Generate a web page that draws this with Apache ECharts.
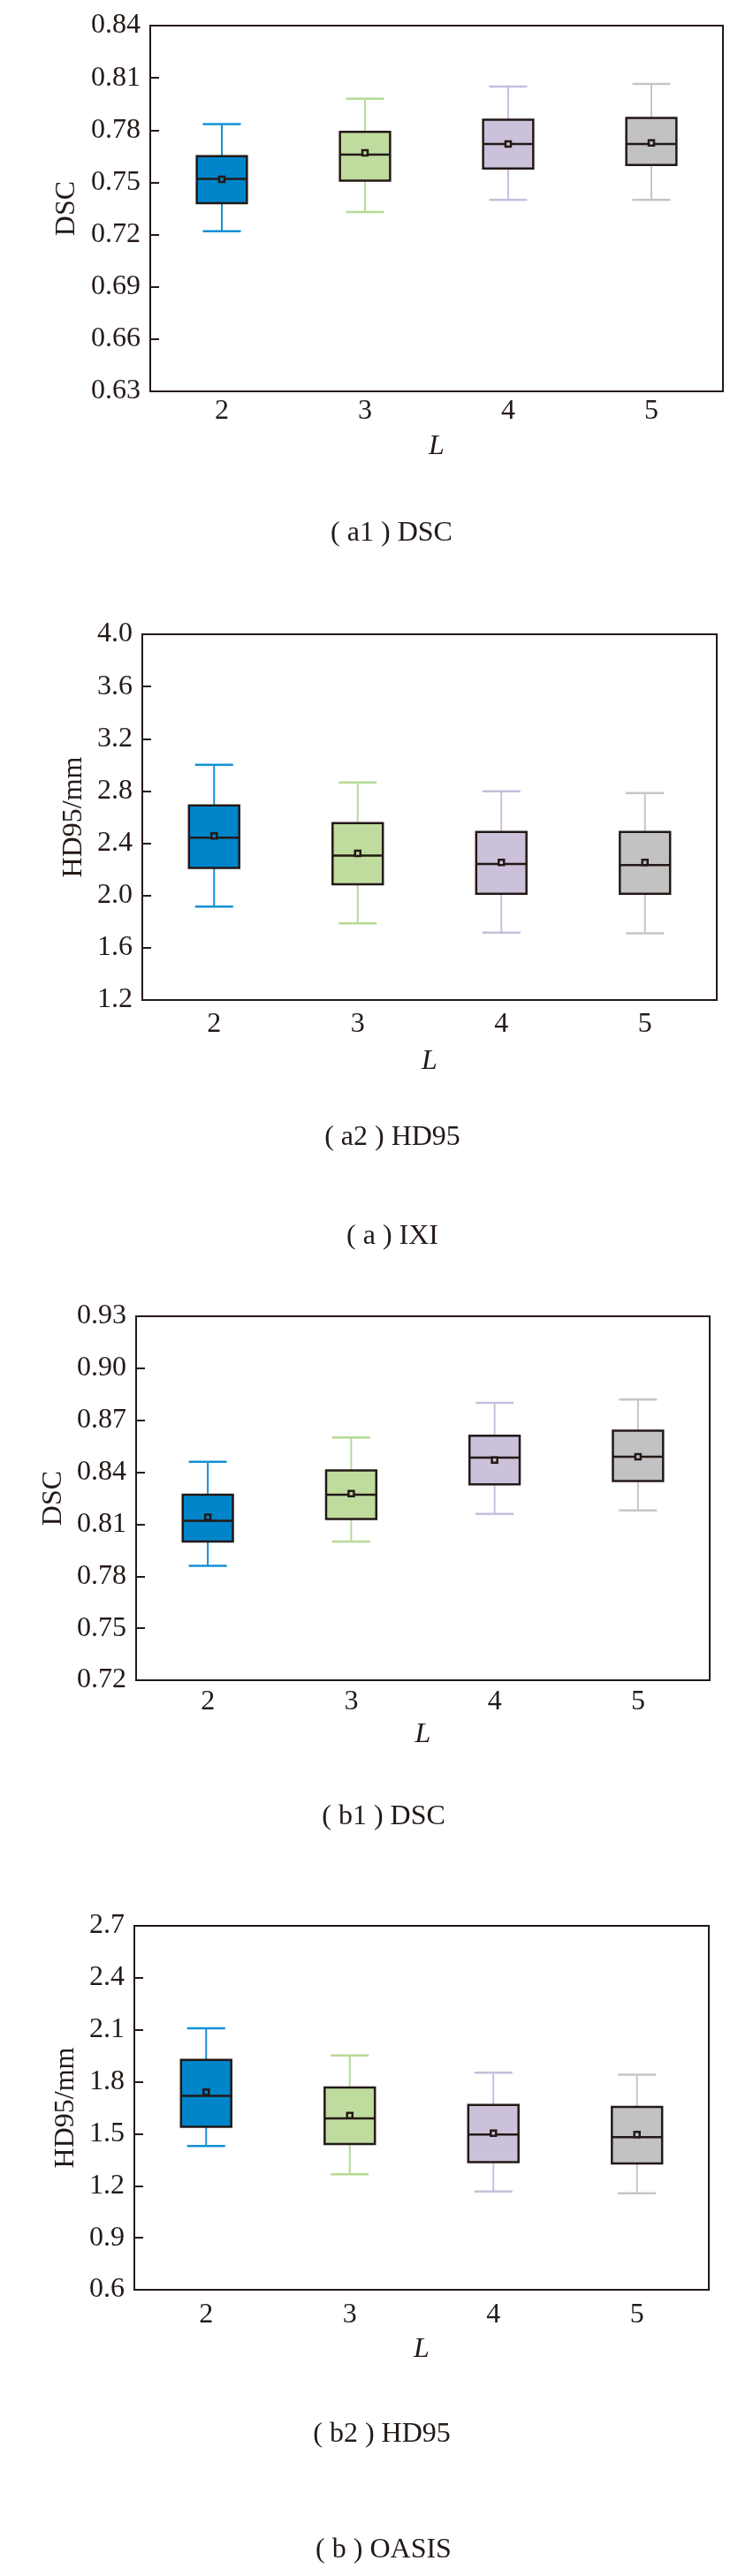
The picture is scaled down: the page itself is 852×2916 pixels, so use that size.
<!DOCTYPE html>
<html>
<head>
<meta charset="utf-8">
<script src="https://cdn.jsdelivr.net/npm/echarts@6/dist/echarts.min.js"></script>
<style>
html,body{margin:0;padding:0;background:#fff;}
#chart{width:852px;height:2916px;}
</style>
</head>
<body>
<div id="chart"></div>
<script>
// ---------- data ----------
const categories = ['2', '3', '4', '5'];

// (a1) IXI DSC
const a1Low    = [0.722, 0.733, 0.740, 0.740];
const a1Q1     = [0.738, 0.751, 0.758, 0.760];
const a1Median = [0.752, 0.766, 0.772, 0.772];
const a1Q3     = [0.765, 0.779, 0.786, 0.787];
const a1High   = [0.7835, 0.798, 0.805, 0.8065];
const a1Mean   = [0.7518, 0.767, 0.772, 0.7727];

// (a2) IXI HD95
const a2Low    = [1.916, 1.787, 1.715, 1.710];
const a2Q1     = [2.211, 2.086, 2.014, 2.014];
const a2Median = [2.442, 2.306, 2.242, 2.233];
const a2Q3     = [2.690, 2.555, 2.487, 2.487];
const a2High   = [3.000, 2.865, 2.797, 2.784];
const a2Mean   = [2.456, 2.322, 2.254, 2.254];

// (b1) OASIS DSC
const b1Low    = [0.786, 0.800, 0.816, 0.818];
const b1Q1     = [0.800, 0.813, 0.833, 0.835];
const b1Median = [0.812, 0.827, 0.8485, 0.849];
const b1Q3     = [0.827, 0.841, 0.861, 0.864];
const b1High   = [0.846, 0.860, 0.880, 0.882];
const b1Mean   = [0.814, 0.8277, 0.847, 0.849];

// (b2) OASIS HD95
const b2Low    = [1.430, 1.266, 1.167, 1.157];
const b2Q1     = [1.541, 1.441, 1.337, 1.329];
const b2Median = [1.719, 1.589, 1.496, 1.480];
const b2Q3     = [1.926, 1.767, 1.666, 1.655];
const b2High   = [2.109, 1.952, 1.852, 1.841];
const b2Mean   = [1.740, 1.605, 1.504, 1.496];

// axis ranges / ticks
const a1Axis = {min: 0.63, max: 0.84, interval: 0.03, digits: 2, name: 'DSC'};
const a2Axis = {min: 1.2, max: 4.0, interval: 0.4, digits: 1, name: 'HD95/mm'};
const b1Axis = {min: 0.72, max: 0.93, interval: 0.03, digits: 2, name: 'DSC'};
const b2Axis = {min: 0.6, max: 2.7, interval: 0.3, digits: 1, name: 'HD95/mm'};

const captions = ['( a1 ) DSC', '( a2 ) HD95', '( a ) IXI', '( b1 ) DSC', '( b2 ) HD95', '( b ) OASIS'];

// ---------- style ----------
const FONT = '"Liberation Serif", "DejaVu Serif", "Times New Roman", serif';
const INK = '#231916';
const fillColors = ['#0085CA', '#BFDC9E', '#CBC1DA', '#C1C2C1'];
const whiskerColors = ['#1391D4', '#B6DA94', '#C9BEDC', '#C6C6C6'];

const panels = [
  {low: a1Low, q1: a1Q1, med: a1Median, q3: a1Q3, high: a1High, mean: a1Mean, axis: a1Axis,
   grid: {left: 170, top: 29, width: 648, height: 414}, xMargin: 7, xNameGap: 47, yNameGap: 78},
  {low: a2Low, q1: a2Q1, med: a2Median, q3: a2Q3, high: a2High, mean: a2Mean, axis: a2Axis,
   grid: {left: 161, top: 718, width: 650, height: 414}, xMargin: 12, xNameGap: 54, yNameGap: 59},
  {low: b1Low, q1: b1Q1, med: b1Median, q3: b1Q3, high: b1High, mean: b1Mean, axis: b1Axis,
   grid: {left: 154, top: 1490, width: 649, height: 412}, xMargin: 9, xNameGap: 46, yNameGap: 70},
  {low: b2Low, q1: b2Q1, med: b2Median, q3: b2Q3, high: b2High, mean: b2Mean, axis: b2Axis,
   grid: {left: 152, top: 2180, width: 650, height: 412}, xMargin: 13, xNameGap: 52, yNameGap: 59}
];

const captionPos = [[443, 604], [444, 1288], [444, 1400], [434, 2057], [432, 2756], [434, 2887]];

function renderBox(params, api) {
  const i = api.value(0);
  const low = api.value(1), q1 = api.value(2), med = api.value(3), q3 = api.value(4), high = api.value(5), mean = api.value(6);
  const band = api.size([1, 0])[0];
  const bw = band * 0.35;
  const cw = band * 0.265;
  const pLow = api.coord([i, low]);
  const pQ1 = api.coord([i, q1]);
  const pMed = api.coord([i, med]);
  const pQ3 = api.coord([i, q3]);
  const pHigh = api.coord([i, high]);
  const pMean = api.coord([i, mean]);
  const cx = pMed[0];
  const wc = whiskerColors[i];
  const fc = fillColors[i];
  return {
    type: 'group',
    children: [
      {type: 'line', shape: {x1: cx, y1: pHigh[1], x2: cx, y2: pQ3[1]}, style: {stroke: wc, lineWidth: 2}},
      {type: 'line', shape: {x1: cx, y1: pQ1[1], x2: cx, y2: pLow[1]}, style: {stroke: wc, lineWidth: 2}},
      {type: 'line', shape: {x1: cx - cw / 2, y1: pHigh[1], x2: cx + cw / 2, y2: pHigh[1]}, style: {stroke: wc, lineWidth: 2.5}},
      {type: 'line', shape: {x1: cx - cw / 2, y1: pLow[1], x2: cx + cw / 2, y2: pLow[1]}, style: {stroke: wc, lineWidth: 2.5}},
      {type: 'rect', shape: {x: cx - bw / 2, y: pQ3[1], width: bw, height: pQ1[1] - pQ3[1]},
       style: {fill: fc, stroke: INK, lineWidth: 2.5}},
      {type: 'line', shape: {x1: cx - bw / 2, y1: pMed[1], x2: cx + bw / 2, y2: pMed[1]}, style: {stroke: INK, lineWidth: 2.5}},
      {type: 'rect', shape: {x: cx - 3, y: pMean[1] - 3, width: 6, height: 6}, style: {fill: fc, stroke: INK, lineWidth: 2.5}}
    ]
  };
}

const grids = [], xAxes = [], yAxes = [], series = [];
panels.forEach((p, k) => {
  grids.push(Object.assign({show: true, borderColor: INK, borderWidth: 2, containLabel: false}, p.grid));
  xAxes.push({
    type: 'category', gridIndex: k, data: categories,
    name: 'L', nameLocation: 'middle', nameGap: p.xNameGap,
    nameTextStyle: {fontFamily: FONT, fontSize: 32, fontStyle: 'italic', color: INK},
    axisLine: {lineStyle: {color: INK, width: 2}},
    axisTick: {inside: true, alignWithLabel: true, length: 12, lineStyle: {color: INK, width: 2}},
    axisLabel: {fontFamily: FONT, fontSize: 32, color: INK, margin: p.xMargin},
    splitLine: {show: false}
  });
  const d = p.axis.digits;
  yAxes.push({
    type: 'value', gridIndex: k, min: p.axis.min, max: p.axis.max, interval: p.axis.interval,
    name: p.axis.name, nameLocation: 'middle', nameRotate: 90, nameGap: p.yNameGap,
    nameTextStyle: {fontFamily: FONT, fontSize: 32, color: INK},
    axisLine: {show: true, lineStyle: {color: INK, width: 2}},
    axisTick: {show: true, inside: true, length: 10, lineStyle: {color: INK, width: 2}},
    axisLabel: {fontFamily: FONT, fontSize: 32, color: INK, margin: 11,
      formatter: v => Number(v).toFixed(d)},
    splitLine: {show: false}
  });
  const data = categories.map((c, i) => [i, p.low[i], p.q1[i], p.med[i], p.q3[i], p.high[i], p.mean[i]]);
  series.push({
    type: 'custom', xAxisIndex: k, yAxisIndex: k,
    renderItem: renderBox,
    encode: {x: 0, y: [1, 2, 3, 4, 5, 6]},
    data: data,
    silent: true
  });
});

const graphics = captions.map((t, i) => ({
  type: 'text', x: captionPos[i][0], y: captionPos[i][1],
  style: {text: t, fontFamily: FONT, fontSize: 32, fill: INK, align: 'center', verticalAlign: 'middle'}
}));

const chart = echarts.init(document.getElementById('chart'), null, {renderer: 'canvas'});
chart.setOption({
  backgroundColor: '#ffffff',
  animation: false,
  grid: grids,
  xAxis: xAxes,
  yAxis: yAxes,
  series: series,
  graphic: graphics
});
</script>
</body>
</html>
